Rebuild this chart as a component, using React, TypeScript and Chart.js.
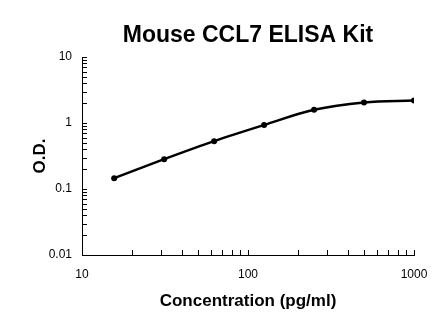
import React, { useEffect, useRef } from "react";
import { Chart, registerables } from "chart.js";

Chart.register(...registerables);

const titleText = "Mouse CCL7 ELISA Kit";
const xAxisTitle = "Concentration (pg/ml)";
const yAxisTitle = "O.D.";
const concentrations = [15.625, 31.25, 62.5, 125, 250, 500, 1000];
const odValues = [0.146, 0.283, 0.531, 0.933, 1.585, 2.05, 2.19];
const xTickValues = [10, 100, 1000];
const yTickValues = [0.01, 0.1, 1, 10];
const xTickLabels = ["10", "100", "1000"];
const yTickLabels = ["0.01", "0.1", "1", "10"];

const FONT = "'Liberation Sans', Arial, sans-serif";

const innerTicks = {
  id: "innerTicks",
  afterDraw(chart: any) {
    const { ctx, chartArea, scales } = chart;
    const xs = scales.x;
    const ys = scales.y;
    ctx.save();
    ctx.strokeStyle = "#000";
    ctx.lineWidth = 1;
    const len = 5;
    const xMin = xTickValues[0];
    const xMax = xTickValues[xTickValues.length - 1];
    for (let d = xMin; d <= xMax; d *= 10) {
      for (let k = 1; k <= 9; k++) {
        const v = d * k;
        if (v > xMax * 1.0001) break;
        const px = Math.round(xs.getPixelForValue(v)) + 0.5;
        ctx.beginPath();
        ctx.moveTo(px, chartArea.bottom);
        ctx.lineTo(px, chartArea.bottom - len);
        ctx.stroke();
      }
    }
    const yMin = yTickValues[0];
    const yMax = yTickValues[yTickValues.length - 1];
    for (let d = yMin; d <= yMax * 1.0001; d *= 10) {
      for (let k = 1; k <= 9; k++) {
        const v = d * k;
        if (v > yMax * 1.0001) break;
        const py = Math.round(ys.getPixelForValue(v)) + 0.5;
        ctx.beginPath();
        ctx.moveTo(chartArea.left, py);
        ctx.lineTo(chartArea.left + len, py);
        ctx.stroke();
      }
    }
    ctx.restore();
  },
};

export default function App() {
  const ref = useRef<HTMLCanvasElement | null>(null);

  useEffect(() => {
    if (!ref.current) return;
    const data = concentrations.map((x, i) => ({ x, y: odValues[i] }));
    const chart = new Chart(ref.current, {
      type: "line",
      data: {
        datasets: [
          {
            data,
            borderColor: "#000",
            backgroundColor: "#000",
            borderWidth: 2.5,
            pointRadius: 3,
            pointBackgroundColor: "#000",
            pointBorderWidth: 0,
            tension: 0.35,
            fill: false,
          },
        ],
      },
      options: {
        animation: false,
        responsive: false,
        devicePixelRatio: 1,
        layout: { padding: { left: 0, right: 32, top: 0, bottom: 0 } },
        plugins: {
          legend: { display: false },
          tooltip: { enabled: false },
          title: {
            display: true,
            fullSize: false,
            text: titleText,
            color: "#000",
            font: { family: FONT, size: 23, weight: "bold" },
            padding: { top: 21.7, bottom: 7.7 },
          },
        },
        scales: {
          x: {
            type: "logarithmic",
            min: 10,
            max: 1000,
            afterBuildTicks: (s: any) => {
              s.ticks = xTickValues.map((v) => ({ value: v }));
            },
            afterFit: (s: any) => {
              s.height = 71;
            },
            ticks: {
              autoSkip: false,
              maxRotation: 0,
              padding: 12,
              color: "#000",
              font: { family: FONT, size: 12 },
              callback: (v: any) => {
                const i = xTickValues.indexOf(Number(v));
                return i >= 0 ? xTickLabels[i] : "";
              },
            },
            grid: { display: false, drawTicks: false },
            border: { display: true, color: "#000", width: 1 },
            title: {
              display: true,
              text: xAxisTitle,
              color: "#000",
              font: { family: FONT, size: 17, weight: "bold" },
              padding: { top: 0, bottom: 14.8 },
            },
          },
          y: {
            type: "logarithmic",
            min: 0.01,
            max: 10,
            afterBuildTicks: (s: any) => {
              s.ticks = yTickValues.map((v) => ({ value: v }));
            },
            afterFit: (s: any) => {
              s.width = 82;
            },
            ticks: {
              autoSkip: false,
              padding: 10,
              color: "#000",
              font: { family: FONT, size: 12 },
              callback: (v: any) => {
                const i = yTickValues.findIndex((t) => Math.abs(t - Number(v)) < t * 1e-6);
                return i >= 0 ? yTickLabels[i] : "";
              },
            },
            grid: { display: false, drawTicks: false },
            border: { display: true, color: "#000", width: 1 },
            title: {
              display: true,
              text: yAxisTitle,
              color: "#000",
              font: { family: FONT, size: 17, weight: "bold" },
              padding: { top: 29.8, bottom: 0 },
            },
          },
        },
      },
      plugins: [innerTicks],
    });
    return () => chart.destroy();
  }, []);

  return (
    <div style={{ position: "fixed", left: 0, top: 0, width: 446, height: 326, background: "#fff" }}>
      <canvas ref={ref} width={446} height={326} style={{ width: 446, height: 326 }} />
    </div>
  );
}
